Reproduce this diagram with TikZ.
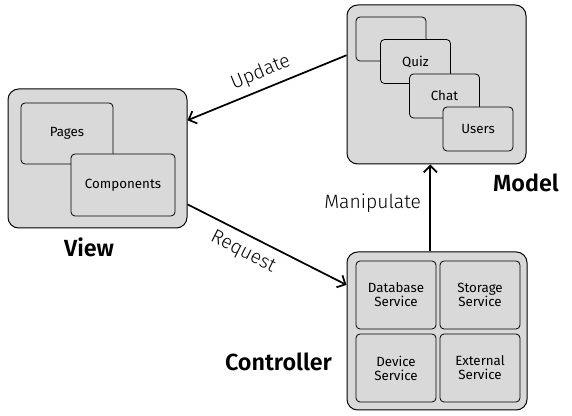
\documentclass[tikz,border=0pt]{standalone}
\usepackage{fontspec}
\setmainfont{Fira Sans}[BoldFont=* SemiBold]
\newfontfamily\thinfont{Fira Sans Light}
\usetikzlibrary{arrows.meta}

\tikzset{
	layer/.style={draw, fill=black!15, rounded corners=8pt, line width=0.75pt},
	part/.style={draw, fill=black!15, rounded corners=3pt, line width=0.6pt, inner sep=0pt, align=center, font=\fontsize{10}{10.5}\selectfont},
	title/.style={font=\fontsize{17.5}{20}\selectfont\bfseries},
	verb/.style={font=\fontsize{14.5}{16}\selectfont\thinfont},
	flow/.style={-{Straight Barb[length=5pt,width=10pt]}, line width=1.3pt}
}

\begin{document}
\begin{tikzpicture}[x=0.75pt, y=-0.75pt]
	\useasboundingbox (0,0) rectangle (572,416);

	% model
	\node[layer, minimum width=134.25pt, minimum height=119.25pt] at (436.5,84.5) (model) {};
	\node[part, minimum width=52.5pt, minimum height=33pt] at (391,39) (store) {};
	\node[part, minimum width=52.5pt, minimum height=33pt] at (415.5,61.5) (quiz) {Quiz};
	\node[part, minimum width=52.5pt, minimum height=33pt] at (444.5,96) (chat) {Chat};
	\node[part, minimum width=52.5pt, minimum height=33pt] at (478,129) (users) {Users};
	\node[title] at (526,183) (modeltitle) {Model};

	% view
	\node[layer, minimum width=134.25pt, minimum height=104.25pt] at (97.5,158.5) (view) {};
	\node[part, minimum width=69pt, minimum height=45.75pt] at (67,133.5) (pages) {Pages};
	\node[part, minimum width=78pt, minimum height=46.5pt] at (123,185) (comps) {Components};
	\node[title] at (89,247) (viewtitle) {View};

	% controller
	\node[layer, minimum width=135pt, minimum height=118.5pt] at (437,331) (ctrl) {};
	\node[part, minimum width=60pt, minimum height=51pt] at (396,295) (dbsvc) {Database\\Service};
	\node[part, minimum width=60pt, minimum height=51pt] at (480,295) (storesvc) {Storage\\Service};
	\node[part, minimum width=60pt, minimum height=51pt] at (396,368) (devsvc) {Device\\Service};
	\node[part, minimum width=60pt, minimum height=51pt] at (480,368) (extsvc) {External\\Service};
	\node[title] at (278.5,362) (ctrltitle) {Controller};

	\coordinate (lift) at ([xshift=-5pt]ctrl.north);

	\draw[flow] (model.162)-- (view.23) node[verb, midway, sloped, above=1.5pt] (update) {Update};
	\draw[flow] (view.-27)-- (ctrl.153) node[verb, pos=0.4, sloped, below=3pt] (request) {Request};
	\draw[flow] (lift)-- (lift |- model.south) node[verb, pos=0.55, left=3pt] (manip) {Manipulate};
\end{tikzpicture}
\end{document}
